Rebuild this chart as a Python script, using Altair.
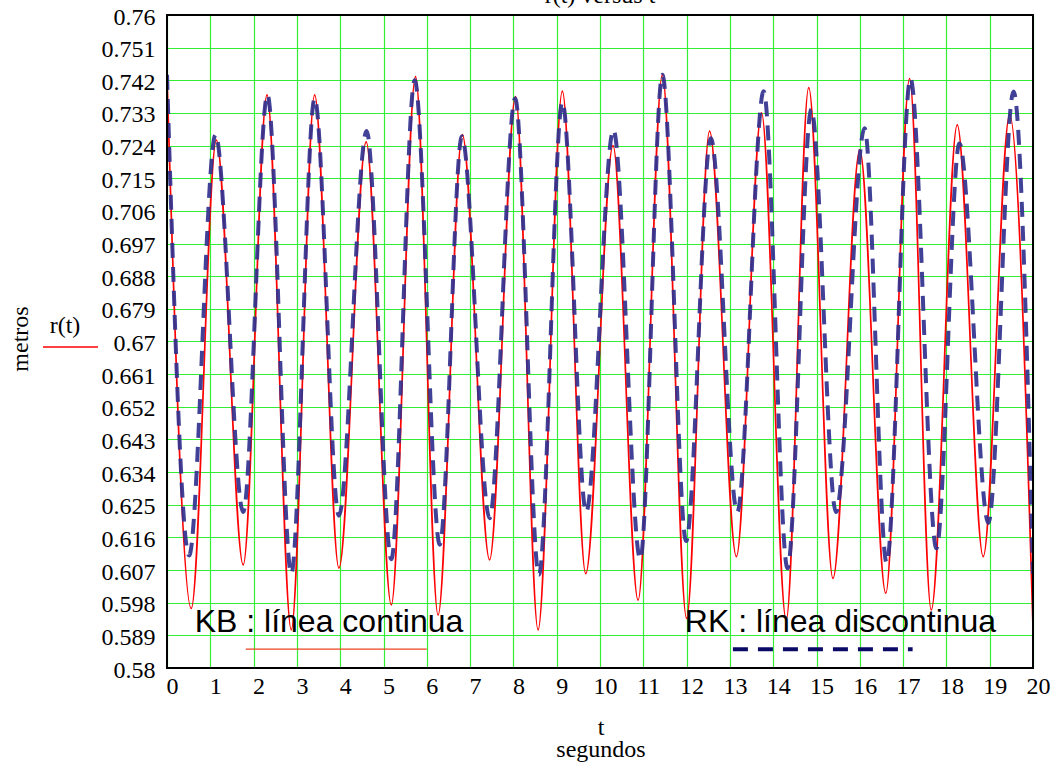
import altair as alt
import pandas as pd

# KB solution (solid red): turning points of r(t) in metres vs t in seconds
kb_t = [0.00, 0.56, 1.14, 1.76, 2.31, 2.87, 3.41, 3.97, 4.60, 5.18, 5.74, 6.26,
        6.82, 7.45, 8.05, 8.57, 9.13, 9.67, 10.30, 10.88, 11.44, 12.00, 12.53,
        13.15, 13.73, 14.30, 14.82, 15.38, 16.00, 16.60, 17.15, 17.65, 18.25,
        18.85, 19.46, 20.00]
kb_r = [0.743, 0.5964, 0.7255, 0.6084, 0.738, 0.5905, 0.738, 0.6075, 0.725,
        0.5974, 0.743, 0.5946, 0.727, 0.6098, 0.7375, 0.5905, 0.739, 0.606,
        0.724, 0.5987, 0.7435, 0.5937, 0.728, 0.6107, 0.733, 0.5932, 0.740,
        0.6047, 0.7228, 0.6006, 0.7425, 0.596, 0.7297, 0.6107, 0.7324, 0.5914]

# RK solution (dashed blue)
rk_t = [0.00, 0.51, 1.12, 1.76, 2.32, 2.87, 3.41, 3.97, 4.61, 5.18, 5.72, 6.30,
        6.81, 7.45, 8.04, 8.59, 9.13, 9.68, 10.31, 10.93, 11.44, 11.99, 12.56,
        13.17, 13.78, 14.33, 14.88, 15.45, 16.11, 16.62, 17.17, 17.77, 18.30,
        18.97, 19.55, 20.00]
rk_r = [0.7435, 0.611, 0.727, 0.623, 0.738, 0.606, 0.737, 0.622, 0.728, 0.610,
        0.742, 0.614, 0.7265, 0.6213, 0.737, 0.6057, 0.736, 0.623, 0.7283, 0.610,
        0.7435, 0.615, 0.726, 0.623, 0.739, 0.6075, 0.734, 0.623, 0.7288, 0.609,
        0.7425, 0.613, 0.7246, 0.620, 0.7389, 0.606]

x_ticks = list(range(0, 21))
y_ticks = [0.58, 0.589, 0.598, 0.607, 0.616, 0.625, 0.634, 0.643, 0.652, 0.661,
           0.67, 0.679, 0.688, 0.697, 0.706, 0.715, 0.724, 0.733, 0.742, 0.751,
           0.76]

# in-plot key
key_labels = ["KB : línea continua", "RK : línea discontinua"]
key_text_t = [0.64, 11.96]
key_text_r = [0.590, 0.590]
key_line_t0 = [1.82, 13.07]
key_line_t1 = [6.00, 17.22]
key_line_r = [0.5852, 0.5852]

W, H = 866, 653
SERIF = "Liberation Serif"
SANS = "Liberation Sans"

x_scale = alt.Scale(domain=[x_ticks[0], x_ticks[-1]], nice=False, zero=False)
y_scale = alt.Scale(domain=[y_ticks[0], y_ticks[-1]], nice=False, zero=False)

x_axis = alt.Axis(values=x_ticks, title=None, grid=True, gridColor="#33ee33",
                  gridWidth=1.2, ticks=False, domain=False, labelFont=SERIF,
                  labelFontSize=24, labelColor="black", labelPadding=6,
                  labelOffset=5, labelAngle=0, labelFlush=False,
                  labelOverlap=False)
y_axis = alt.Axis(values=y_ticks, title=None, grid=True, gridColor="#33ee33",
                  gridWidth=1.2, ticks=False, domain=False, labelFont=SERIF,
                  labelFontSize=24, labelColor="black", labelPadding=12,
                  labelOffset=2, format=".3~f", labelFlush=False,
                  labelOverlap=False)


def xq(field):
    return alt.X(f"{field}:Q", scale=x_scale, axis=x_axis)


def yq(field):
    return alt.Y(f"{field}:Q", scale=y_scale, axis=y_axis)


kb_df = pd.DataFrame({"t": kb_t, "r": kb_r})
rk_df = pd.DataFrame({"t": rk_t, "r": rk_r})

kb_line = alt.Chart(kb_df).mark_line(
    color="#ff0000", strokeWidth=1.7, interpolate="monotone", clip=True
).encode(x=xq("t"), y=yq("r"))

rk_line = alt.Chart(rk_df).mark_line(
    color="#31318f", strokeWidth=4, strokeDash=[15, 9], opacity=0.92,
    interpolate="monotone", clip=True
).encode(x=xq("t"), y=yq("r"))

key_df = pd.DataFrame({
    "label": key_labels, "tt": key_text_t, "rt": key_text_r,
    "t0": key_line_t0, "t1": key_line_t1, "rl": key_line_r,
})

key_text = alt.Chart(key_df).mark_text(
    font=SANS, fontSize=32, align="left", baseline="alphabetic", color="black"
).encode(x=xq("tt"), y=yq("rt"), text="label:N")

key_kb = alt.Chart(key_df.iloc[[0]]).mark_rule(
    color="#ee4422", strokeWidth=1.4
).encode(x=xq("t0"), x2="t1:Q", y=yq("rl"))

key_rk = alt.Chart(key_df.iloc[[1]]).mark_rule(
    color="#0a0a66", strokeWidth=4, strokeDash=[15, 10]
).encode(x=xq("t0"), x2="t1:Q", y=yq("rl"))

frame_df = pd.DataFrame({"t0": [x_ticks[0]], "t1": [x_ticks[-1]],
                         "r0": [y_ticks[0]], "r1": [y_ticks[-1]]})
frame = alt.Chart(frame_df).mark_rect(
    fill="transparent", stroke="black", strokeWidth=2
).encode(x=xq("t0"), x2="t1:Q", y=yq("r0"), y2="r1:Q")

# annotation texts around the plot
note_df = pd.DataFrame({"a": [0]})
title = alt.Chart(note_df).mark_text(
    text="r(t) versus t", font=SERIF, fontSize=24, align="center",
    baseline="alphabetic", color="black"
).encode(x=alt.value(W / 2), y=alt.value(-12))

x_title_t = alt.Chart(note_df).mark_text(
    text="t", font=SERIF, fontSize=24, align="center", baseline="alphabetic",
    color="black"
).encode(x=alt.value(W / 2 + 1), y=alt.value(720))

x_title_unit = alt.Chart(note_df).mark_text(
    text="segundos", font=SERIF, fontSize=24, align="center",
    baseline="alphabetic", color="black"
).encode(x=alt.value(W / 2 + 1), y=alt.value(742))

y_title = alt.Chart(note_df).mark_text(
    text="metros", font=SERIF, fontSize=24, align="center", baseline="middle",
    angle=270, color="black"
).encode(x=alt.value(-146), y=alt.value(324))

y_series = alt.Chart(note_df).mark_text(
    text="r(t)", font=SERIF, fontSize=24, align="center", baseline="alphabetic",
    color="black"
).encode(x=alt.value(-102), y=alt.value(318))

y_series_line = alt.Chart(note_df).mark_rule(
    color="#ff0000", strokeWidth=1.6
).encode(x=alt.value(-124), x2=alt.value(-69), y=alt.value(332))

chart = alt.layer(
    kb_line, rk_line, key_kb, key_rk, key_text, frame,
    title, x_title_t, x_title_unit, y_title, y_series, y_series_line
).properties(
    width=W, height=H,
    padding={"left": 167, "top": 15, "right": 25, "bottom": 100},
    autosize=alt.AutoSizeParams(type="none"),
    background="white",
).configure_view(
    stroke=None
).configure_axis(
    labelFont=SERIF, labelFontSize=24, labelColor="black"
)

chart.save("out.html", embed_options={"renderer": "svg", "actions": False})
